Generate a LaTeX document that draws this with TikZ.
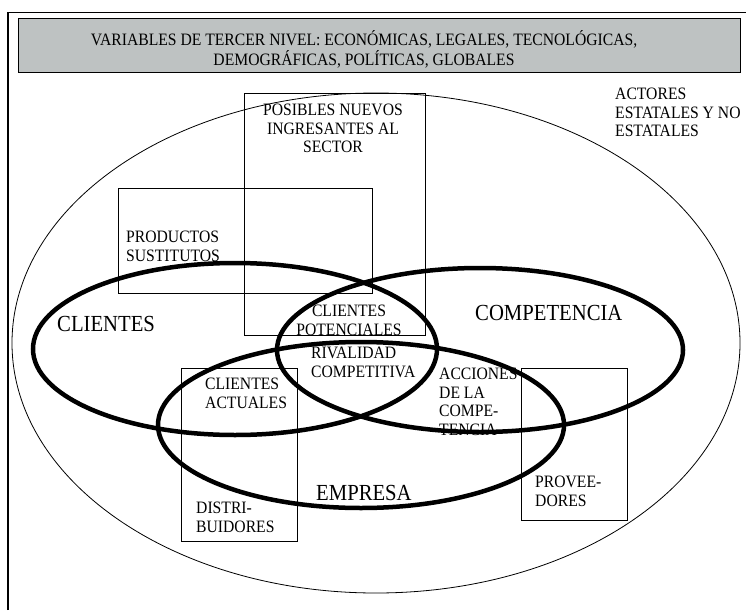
\documentclass[tikz,border=0pt]{standalone}
\usepackage{fontspec}
\setmainfont[FakeStretch=0.9]{Liberation Serif}
\definecolor{boxgray}{RGB}{190,194,194}
\begin{document}
\begin{tikzpicture}[x=1pt,y=-1pt,
  lbl/.style={font=\fontsize{17.4}{18.5}\selectfont,align=left,inner sep=0pt,anchor=north west},
  clbl/.style={font=\fontsize{17.4}{18.5}\selectfont,align=center,inner sep=0pt,anchor=north},
  big/.style={font=\fontsize{23}{24}\selectfont,inner sep=0pt,anchor=north west},
  oval/.style={line width=4.5pt},
  frame/.style={line width=0.8pt}]
\useasboundingbox (0,0) rectangle (746,610);
% marco exterior
\draw[line width=1.2pt] (8,610) -- (8,12.5) -- (746,12.5);
\draw[frame,fill=boxgray] (18,18) rectangle (740,72);
\node[clbl,font=\fontsize{17.4}{20}\selectfont] (vars) at (364,30) {VARIABLES DE TERCER NIVEL: ECONÓMICAS, LEGALES, TECNOLÓGICAS,\\DEMOGRÁFICAS, POLÍTICAS, GLOBALES};
% entorno
\draw[frame] (376,343) ellipse (364 and 250);
\node[lbl] (actores) at (615,88) {ACTORES\\ESTATALES Y NO\\ESTATALES};
% rectangulos
\draw[frame] (244,93) rectangle (425,335);
\node[clbl] (nuevos) at (333,104) {POSIBLES NUEVOS\\INGRESANTES AL\\SECTOR};
\draw[frame] (118,188) rectangle (372,293);
\node[lbl] (sustitutos) at (126,231) {PRODUCTOS\\SUSTITUTOS};
\draw[frame] (181,368) rectangle (297,541);
\node[lbl] (actuales) at (205,378) {CLIENTES\\ACTUALES};
\node[lbl] (distrib) at (196,502) {DISTRI-\\BUIDORES};
\draw[frame] (521,368) rectangle (627,520);
\node[lbl] (proveed) at (535,476) {PROVEE-\\DORES};
% ovalos
\draw[oval] (235,349) ellipse (202 and 86);
\draw[oval] (480,350) ellipse (203 and 82);
\draw[oval] (361,425) ellipse (203 and 83);
\node[big] (clientes) at (57,316) {CLIENTES};
\node[big] (compet) at (475,305) {COMPETENCIA};
\node[big] (empresa) at (316,485) {EMPRESA};
\node[clbl] (potenc) at (349,305) {CLIENTES\\POTENCIALES};
\node[lbl] (rival) at (311,347) {RIVALIDAD\\COMPETITIVA};
\node[lbl] (acciones) at (439,368) {ACCIONES\\DE LA\\COMPE-\\TENCIA};
\end{tikzpicture}
\end{document}
